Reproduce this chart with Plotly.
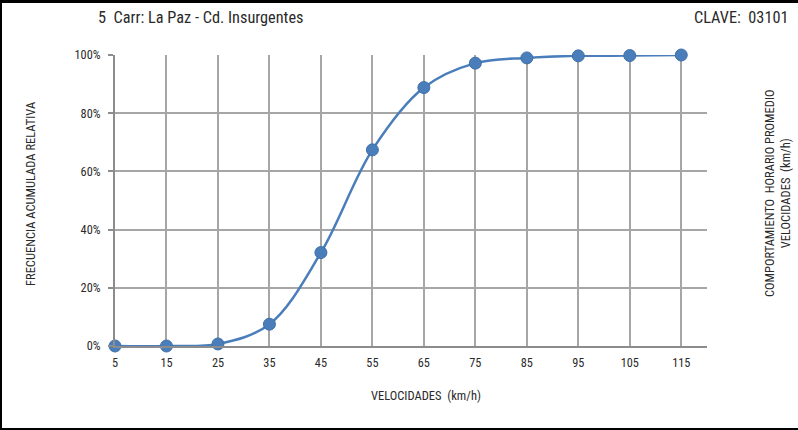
import plotly.graph_objects as go

speeds = [5, 15, 25, 35, 45, 55, 65, 75, 85, 95, 105, 115]
cum_freq = [0.0, 0.0, 0.007, 0.075, 0.321, 0.674, 0.888, 0.972, 0.990, 0.997, 0.998, 1.0]
y_ticks = [0, 0.2, 0.4, 0.6, 0.8, 1.0]

title_text = "5  Carr: La Paz - Cd. Insurgentes"
clave_text = "CLAVE:  03101"
x_title = "VELOCIDADES  (km/h)"
y_title = "FRECUENCIA ACUMULADA RELATIVA"
y2_title = "COMPORTAMIENTO  HORARIO PROMEDIO<br>VELOCIDADES  (km/h)"

W, H = 798, 430
L, R, T, B = 115, 91, 55, 84
pw, ph = W - L - R, H - T - B

def px(x):
    return (x - L) / pw

def py(y):
    return (H - B - y) / ph

FONT = "Liberation Sans Narrow, Roboto Condensed, Arial Narrow, Liberation Sans, sans-serif"
BLUE = "#4a7ebb"
TXT = "#2a2a2a"

fig = go.Figure()
fig.add_trace(go.Scatter(
    x=speeds, y=cum_freq, mode="lines+markers",
    line=dict(color=BLUE, width=2.5, shape="spline", smoothing=1.0),
    marker=dict(color=BLUE, size=12, line=dict(color="#3f6fa8", width=1)),
    cliponaxis=False, showlegend=False,
))

fig.update_layout(
    width=W, height=H,
    margin=dict(l=L, r=R, t=T, b=B),
    paper_bgcolor="white", plot_bgcolor="white",
    font=dict(family=FONT, size=12, color=TXT),
    xaxis=dict(
        range=[5, 120], tickvals=speeds, ticktext=[str(s) for s in speeds],
        showgrid=True, gridcolor="#a6a6a6", gridwidth=1.5,
        showline=True, linecolor="#8c8c8c", linewidth=2,
        ticks="", zeroline=False, tickfont=dict(size=12.3, family=FONT, color=TXT),
        ticklabelstandoff=4,
        fixedrange=True,
    ),
    yaxis=dict(
        range=[0, 1], tickvals=y_ticks, tickformat=".0%",
        showgrid=True, gridcolor="#a6a6a6", gridwidth=1.5,
        showline=True, linecolor="#8c8c8c", linewidth=2,
        ticks="outside", ticklen=5, tickcolor="#8c8c8c", tickwidth=1.5,
        zeroline=False, tickfont=dict(size=12.3, family=FONT, color=TXT),
        ticklabelstandoff=5,
        fixedrange=True,
    ),
    annotations=[
        dict(text=title_text, x=px(96), y=py(17), xref="paper", yref="paper",
             xanchor="left", yanchor="middle", showarrow=False,
             font=dict(size=16.3, family=FONT, color=TXT)),
        dict(text=clave_text, x=px(791), y=py(17), xref="paper", yref="paper",
             xanchor="right", yanchor="middle", showarrow=False,
             font=dict(size=16.3, family=FONT, color=TXT)),
        dict(text=x_title, x=px(426), y=py(395), xref="paper", yref="paper",
             xanchor="center", yanchor="middle", showarrow=False,
             font=dict(size=12.5, family=FONT, color=TXT)),
        dict(text=y_title, x=px(30), y=py(194), xref="paper", yref="paper",
             xanchor="center", yanchor="middle", showarrow=False, textangle=-90,
             font=dict(size=12.5, family=FONT, color=TXT)),
        dict(text=y2_title, x=px(777), y=py(193), xref="paper", yref="paper",
             xanchor="center", yanchor="middle", showarrow=False, textangle=-90,
             font=dict(size=12.5, family=FONT, color=TXT)),
    ],
    shapes=[
        dict(type="rect", xref="paper", yref="paper", x0=px(0), x1=px(W), y0=py(0), y1=py(3),
             fillcolor="black", line=dict(width=0)),
        dict(type="rect", xref="paper", yref="paper", x0=px(0), x1=px(2), y0=py(0), y1=py(H),
             fillcolor="black", line=dict(width=0)),
        dict(type="rect", xref="paper", yref="paper", x0=px(0), x1=px(W), y0=py(428), y1=py(H),
             fillcolor="black", line=dict(width=0)),
    ],
)

fig.write_html("out.html", config={"displayModeBar": False},
               post_script="document.body.style.margin='0px';document.body.style.overflow='hidden';")
